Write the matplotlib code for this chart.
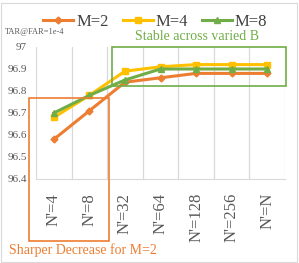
import numpy as np
import matplotlib.pyplot as plt
from matplotlib.patches import Rectangle

# --- data ---
categories = ["N'=4", "N'=8", "N'=32", "N'=64", "N'=128", "N'=256", "N'=N"]
m2 = [96.58, 96.71, 96.84, 96.86, 96.88, 96.88, 96.88]
m4 = [96.68, 96.78, 96.89, 96.91, 96.92, 96.92, 96.92]
m8 = [96.70, 96.78, 96.85, 96.90, 96.90, 96.90, 96.90]
yticks = [96.4, 96.5, 96.6, 96.7, 96.8, 96.9, 97.0]
ytick_labels = ["96.4", "96.5", "96.6", "96.7", "96.8", "96.9", "97"]

plt.rcParams['font.family'] = ['Liberation Serif', 'DejaVu Serif']

W, H = 299, 263
fig = plt.figure(figsize=(W / 100, H / 100), dpi=100)
fig.patch.set_facecolor('white')

def px(x0, y0, x1, y1):
    # pixel box (top-left origin) -> figure fraction rect
    return [x0 / W, 1 - y1 / H, (x1 - x0) / W, (y1 - y0) / H]

ax = fig.add_axes(px(36, 47, 285, 179))
x = np.arange(len(categories))

ax.plot(x, m2, color='#ED7D31', lw=2.2, marker='D', ms=3.5, label='M=2', zorder=3)
ax.plot(x, m4, color='#FFC000', lw=2.2, marker='s', ms=5, label='M=4', zorder=3)
ax.plot(x, m8, color='#70AD47', lw=2.2, marker='^', ms=5, label='M=8', zorder=4)

ax.set_xlim(-0.5, len(categories) - 0.5)
ax.set_ylim(96.4, 97.0)
ax.set_yticks(yticks)
ax.set_yticklabels(ytick_labels, fontsize=8, color='#595959')
ax.set_xticks(x)
ax.set_xticklabels(categories, rotation=90, fontsize=12, color='#595959')
ax.tick_params(axis='y', length=0, pad=6.5)
ax.tick_params(axis='x', length=0, pad=10)

ax.set_xticks(np.arange(-0.5, len(categories)), minor=True)
ax.tick_params(axis='x', which='minor', length=0)
ax.grid(True, which='minor', axis='x', color='#D9D9D9', lw=0.9)
ax.grid(False, which='major')
for s in ['top', 'left', 'right']:
    ax.spines[s].set_visible(False)
ax.spines['bottom'].set_color('#D9D9D9')

fig.legend(loc='center', bbox_to_anchor=(0.52, 1 - 22 / H), ncol=3, frameon=False,
           fontsize=12, handlelength=1.8, handletextpad=0.2, columnspacing=0.8,
           labelcolor='#404040')

fig.text(5 / W, 1 - 32 / H, 'TAR@FAR=1e-4', fontsize=6, color='#595959', va='center')

# annotation boxes
g = px(112, 47, 286, 86)
fig.add_artist(Rectangle(g[:2], g[2], g[3], transform=fig.transFigure, fill=False,
                         ec='#70AD47', lw=1.2))
fig.text(197 / W, 1 - 37 / H, 'Stable across varied B', fontsize=10, color='#70AD47',
         ha='center', va='center')
r = px(29, 98, 109, 241)
fig.add_artist(Rectangle(r[:2], r[2], r[3], transform=fig.transFigure, fill=False,
                         ec='#ED7D31', lw=1.2))
fig.text(9 / W, 1 - 250 / H, 'Sharper Decrease for M=2', fontsize=10, color='#ED7D31',
         ha='left', va='center')

# chart border
fig.add_artist(Rectangle((0.003, 0.003), 0.99, 0.985, transform=fig.transFigure,
                         fill=False, ec='#D9D9D9', lw=0.8))

fig.savefig('out.png', dpi=100)
